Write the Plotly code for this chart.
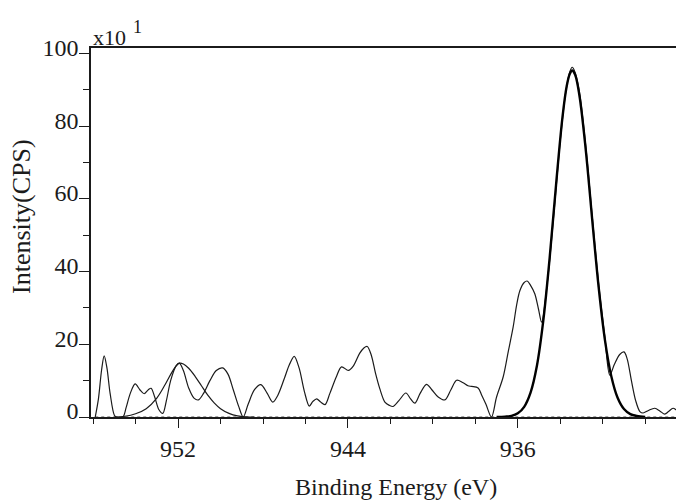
import plotly.graph_objects as go

# Cu 2p region: measured spectrum (x in eV, y in counts/10)
spec_be = [955.9, 955.75, 955.6, 955.48, 955.35, 955.2, 955.0, 954.9, 954.6, 954.45,
           954.25, 954.02, 953.8, 953.6, 953.4, 953.27, 953.1, 952.9, 952.72, 952.55,
           952.35, 952.1, 951.94, 951.75, 951.5, 951.25, 951.04, 950.8, 950.5, 950.2,
           949.9, 949.65, 949.4, 949.15, 948.93, 948.7, 948.4, 948.1, 947.8, 947.54,
           947.3, 947.0, 946.75, 946.53, 946.3, 946.05, 945.82, 945.65, 945.47, 945.3,
           945.08, 944.85, 944.55, 944.3, 943.98, 943.75, 943.45, 943.25, 943.09, 942.9,
           942.7, 942.5, 942.26, 942.05, 941.87, 941.6, 941.27, 941.05, 940.85, 940.6,
           940.3, 940.05, 939.75, 939.44, 939.15, 938.88, 938.6, 938.35, 938.18, 937.87,
           937.7, 937.5, 937.24, 937.0, 936.69, 936.45, 936.22, 936.05, 935.9, 935.7,
           935.56, 935.4, 935.2, 935.02, 934.88, 934.6, 934.3, 934.0, 933.75, 933.55,
           933.44, 933.3, 933.1, 932.8, 932.5, 932.2, 931.9, 931.67, 931.45, 931.2,
           931.0, 930.85, 930.65, 930.45, 930.25, 930.1, 929.85, 929.55, 929.3, 929.08,
           928.9, 928.69, 928.5]
spec_cps = [0.0, 5.0, 13.0, 16.8, 13.5, 6.5, 0.5, 0.0, 0.0, 2.5,
            6.5, 9.1, 7.5, 6.4, 7.5, 7.9, 5.5, 2.0, 1.0, 4.5,
            10.0, 14.0, 14.8, 12.8, 8.0, 5.2, 4.7, 6.5, 10.0, 12.8,
            13.5, 11.8, 7.5, 3.0, 0.0, 3.5, 7.5, 8.9, 6.5, 4.1,
            6.0, 10.5, 14.5, 16.7, 13.5, 7.0, 3.0, 4.3, 5.0, 4.2,
            3.4, 6.5, 11.0, 13.8, 12.8, 14.0, 17.5, 19.0, 19.4, 17.0,
            12.0, 7.8, 4.1, 3.2, 2.9, 4.5, 6.6, 5.0, 3.8, 6.5,
            9.0, 7.5, 5.5, 4.7, 7.5, 10.1, 9.5, 8.6, 8.4, 8.0,
            6.0, 3.5, 0.0, 5.5, 11.0, 18.0, 24.7, 31.0, 34.8, 37.0,
            37.4, 36.2, 33.9, 29.5, 26.1, 37.5, 56.0, 76.0, 89.0, 95.0,
            96.2, 94.8, 89.5, 74.5, 55.5, 37.0, 22.0, 11.5, 14.5, 17.2,
            17.9, 16.0, 10.0, 4.5, 1.5, 1.1, 1.8, 2.4, 1.6, 0.8,
            1.5, 2.4, 1.8]

# Fitted satellite component
sat_be = [955.0, 954.5, 954.0, 953.5, 953.0, 952.6, 952.3, 952.1, 951.94, 951.75,
          951.5, 951.2, 950.9, 950.6, 950.3, 950.0, 949.6, 949.2, 948.8, 948.4]
sat_cps = [0.0, 0.2, 0.9, 2.3, 5.2, 9.0, 12.2, 14.0, 14.8, 14.6,
           13.4, 11.2, 8.6, 6.0, 3.9, 2.3, 1.0, 0.3, 0.05, 0.0]

# Fitted main Cu 2p3/2 component
main_be = [937.0, 936.6, 936.3, 936.0, 935.7, 935.4, 935.1, 934.8, 934.5, 934.2,
           933.9, 933.7, 933.55, 933.44, 933.3, 933.1, 932.8, 932.5, 932.2, 931.9,
           931.6, 931.3, 931.0, 930.7, 930.4, 930.0]
main_cps = [0.0, 0.1, 0.3, 1.0, 2.8, 6.7, 14.1, 26.5, 43.8, 63.8,
            82.3, 90.9, 94.4, 95.3, 94.1, 88.5, 73.5, 54.5, 36.1, 21.3,
            11.3, 5.3, 2.2, 0.8, 0.3, 0.0]

# Background line
bg_be = [955.9, 928.5]
bg_cps = [0.0, 0.0]

x_major = [952, 944, 936]
x_minor = [956, 954, 950, 948, 946, 942, 940, 938, 934, 932, 930]
y_major = [0, 20, 40, 60, 80, 100]
y_minor = [10, 30, 50, 70, 90]

ink = "#1b1b1b"
serif = "Liberation Serif"

fig = go.Figure()
fig.add_trace(go.Scatter(x=bg_be, y=bg_cps, mode="lines",
                         line=dict(color="#8a8a8a", width=1.6, dash="dot"),
                         hoverinfo="skip"))
fig.add_trace(go.Scatter(x=sat_be, y=sat_cps, mode="lines",
                         line=dict(color=ink, width=1.2, shape="spline", smoothing=1.0)))
fig.add_trace(go.Scatter(x=spec_be, y=spec_cps, mode="lines",
                         line=dict(color=ink, width=1.2, shape="spline", smoothing=0.9)))
fig.add_trace(go.Scatter(x=main_be, y=main_cps, mode="lines",
                         line=dict(color="#000000", width=2.4, shape="spline", smoothing=1.0)))

L, R, T, B = 91, 0, 48, 84
W, H = 676, 501
pw, ph = W - L - R, H - T - B


def px(xp):
    return (xp - L) / pw


def py(yp):
    return (H - B - yp) / ph


fig.update_layout(
    width=W, height=H,
    margin=dict(l=L, r=R, t=T, b=B, pad=0),
    paper_bgcolor="white", plot_bgcolor="white",
    showlegend=False,
    font=dict(family=serif, color=ink, size=24),
    xaxis=dict(
        range=[956.1, 928.55], showgrid=False, zeroline=False,
        showline=True, linecolor=ink, linewidth=1.6, mirror=True,
        ticks="outside", ticklen=9, tickwidth=1.4, tickcolor=ink,
        tickmode="array", tickvals=x_major, ticktext=[str(v) for v in x_major],
        tickfont=dict(family=serif, size=24, color=ink),
        minor=dict(tickmode="array", tickvals=x_minor, ticks="outside",
                   ticklen=5, tickwidth=1.3, tickcolor=ink, showgrid=False),
    ),
    yaxis=dict(
        range=[0, 101.5], showgrid=False, zeroline=False,
        showline=True, linecolor=ink, linewidth=1.6,
        ticks="outside", ticklen=10, tickwidth=1.4, tickcolor=ink,
        tickmode="array", tickvals=y_major, ticktext=[str(v) for v in y_major],
        tickfont=dict(family=serif, size=24, color=ink),
        ticklabelshift=-6, ticklabelstandoff=-4,
        minor=dict(tickmode="array", tickvals=y_minor, ticks="outside",
                   ticklen=6, tickwidth=1.3, tickcolor=ink, showgrid=False),
    ),
    annotations=[
        dict(text="Binding Energy (eV)", xref="paper", yref="paper",
             x=px(396), y=py(487), xanchor="center", yanchor="middle",
             showarrow=False, font=dict(family=serif, size=24, color=ink)),
        dict(text="Intensity(CPS)", xref="paper", yref="paper",
             x=px(21), y=py(217), xanchor="center", yanchor="middle",
             textangle=-90, showarrow=False,
             font=dict(family=serif, size=26, color=ink)),
        dict(text="x10", xref="paper", yref="paper",
             x=px(91), y=py(52), xanchor="left", yanchor="bottom",
             showarrow=False, font=dict(family=serif, size=22, color=ink)),
        dict(text="1", xref="paper", yref="paper",
             x=px(137.5), y=py(27.5), xanchor="center", yanchor="middle",
             showarrow=False, font=dict(family=serif, size=18, color=ink)),
    ],
)

fig.write_html("out.html")
